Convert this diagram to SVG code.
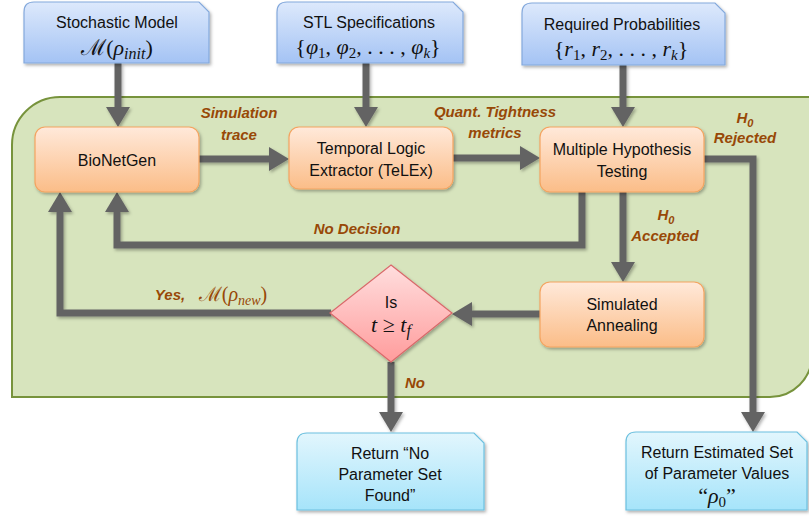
<svg xmlns="http://www.w3.org/2000/svg" width="809" height="516" viewBox="0 0 809 516">
<defs>
<linearGradient id="gBlue" x1="0" y1="0" x2="0" y2="1"><stop offset="0" stop-color="#dde9fc"/><stop offset="1" stop-color="#a4c3f4"/></linearGradient>
<linearGradient id="gOrange" x1="0" y1="0" x2="0" y2="1"><stop offset="0" stop-color="#ffe9da"/><stop offset="1" stop-color="#fbbd88"/></linearGradient>
<linearGradient id="gPink" x1="0" y1="0" x2="0" y2="1"><stop offset="0" stop-color="#ffdede"/><stop offset="1" stop-color="#ff9c9c"/></linearGradient>
<linearGradient id="gCyan" x1="0" y1="0" x2="0" y2="1"><stop offset="0" stop-color="#e2f6fd"/><stop offset="1" stop-color="#a6e4fa"/></linearGradient>
<filter id="sh" x="-10%" y="-10%" width="130%" height="140%"><feDropShadow dx="1.5" dy="2" stdDeviation="1.5" flood-color="#000" flood-opacity="0.3"/></filter>
<marker id="ah" markerUnits="userSpaceOnUse" markerWidth="22" markerHeight="24" refX="2" refY="12" orient="auto"><path d="M0,0 L20,12 L0,24 Z" fill="#636363"/></marker>
</defs>
<style>
.blue{fill:url(#gBlue);stroke:#84a9dc;stroke-width:1.2;filter:url(#sh)}
.orange{fill:url(#gOrange);stroke:#f4a460;stroke-width:1.2;filter:url(#sh)}
.cyan{fill:url(#gCyan);stroke:#6cc0df;stroke-width:1.2;filter:url(#sh)}
.pink{fill:url(#gPink);stroke:#d9686a;stroke-width:1.2;filter:url(#sh)}
.t{font-family:"Liberation Sans","Open Sans",sans-serif;font-size:16px;fill:#111;text-anchor:middle}
.m{font-family:"Liberation Serif","DejaVu Serif",serif;font-size:22px;fill:#111;text-anchor:middle}
.i{font-style:italic}
.lab{font-family:"Liberation Sans","Open Sans",sans-serif;font-size:15px;font-weight:bold;font-style:italic;fill:#984807;text-anchor:middle}
.conn path{fill:none;stroke:#636363;stroke-width:7;marker-end:url(#ah)}
</style>
<rect width="809" height="516" fill="#fff"/>
<g id="container">
<path d="M12,397 V145 A48,48 0 0 1 60,97 H812 V355 A42,42 0 0 1 770,397 Z" fill="#d7e4bd" stroke="#77933c" stroke-width="2"/>
</g>
<g class="conn" id="connectors" filter="url(#sh)">
<path d="M118,63 V109"/>
<path d="M366,63 V109"/>
<path d="M623,65 V109"/>
<path d="M199,159 H271"/>
<path d="M453,158 H522"/>
<path d="M623,192 V264"/>
<path d="M582,192 V245 H117 V210"/>
<path d="M704,159 H753 V414"/>
<path d="M540,314 H470"/>
<path d="M331,313 H60 V210"/>
<path d="M391,362 V414"/>
</g>
<g id="stochastic">
<path class="blue" d="M34,2 H199 L209,12 V63 H24 V12 Q24,2 34,2 Z"/>
<text class="t" x="117" y="28">Stochastic Model</text>
<text class="m" x="117" y="55">ℳ(<tspan class="i">ρ</tspan><tspan class="i" font-size="16" dy="4">init</tspan><tspan dy="-4">)</tspan></text>
</g>
<g id="stl">
<path class="blue" d="M287,2 H453 L463,12 V63 H277 V12 Q277,2 287,2 Z"/>
<text class="t" x="369" y="28">STL Specifications</text>
<text class="m" x="368" y="54">{<tspan class="i">φ</tspan><tspan font-size="15" dy="4">1</tspan><tspan dy="-4">, </tspan><tspan class="i">φ</tspan><tspan font-size="15" dy="4">2</tspan><tspan dy="-4">, . . . , </tspan><tspan class="i">φ</tspan><tspan class="i" font-size="15" dy="4">k</tspan><tspan dy="-4">}</tspan></text>
</g>
<g id="required">
<path class="blue" d="M532,3 H715 L725,13 V65 H522 V13 Q522,3 532,3 Z"/>
<text class="t" x="622" y="30">Required Probabilities</text>
<text class="m" x="621" y="56">{<tspan class="i">r</tspan><tspan font-size="15" dy="4">1</tspan><tspan dy="-4">, </tspan><tspan class="i">r</tspan><tspan font-size="15" dy="4">2</tspan><tspan dy="-4">, . . . , </tspan><tspan class="i">r</tspan><tspan class="i" font-size="15" dy="4">k</tspan><tspan dy="-4">}</tspan></text>
</g>
<g id="bionetgen">
<rect class="orange" x="35" y="127" width="164" height="65" rx="10"/>
<text class="t" x="117" y="166">BioNetGen</text>
</g>
<g id="telex">
<rect class="orange" x="289" y="127" width="164" height="62" rx="10"/>
<text class="t" x="371" y="154">Temporal Logic</text>
<text class="t" x="371" y="176">Extractor (TeLEx)</text>
</g>
<g id="mht">
<rect class="orange" x="540" y="127" width="164" height="65" rx="10"/>
<text class="t" x="622" y="155">Multiple Hypothesis</text>
<text class="t" x="622" y="177">Testing</text>
</g>
<g id="annealing">
<rect class="orange" x="540" y="282" width="164" height="65" rx="10"/>
<text class="t" x="622" y="310">Simulated</text>
<text class="t" x="622" y="331">Annealing</text>
</g>
<g id="decision">
<path class="pink" d="M391,265 L452,313 L391,362 L330,313 Z"/>
<text class="t" x="391" y="308" font-size="14">Is</text>
<text class="m i" x="391" y="332" font-size="24">t <tspan font-style="normal">≥</tspan> t<tspan font-size="16" dy="4">f</tspan></text>
</g>
<g id="return-none">
<path class="cyan" d="M307,433 H474 L484,443 V510 H297 V443 Q297,433 307,433 Z"/>
<text class="t" x="390" y="459">Return “No</text>
<text class="t" x="390" y="480">Parameter Set</text>
<text class="t" x="390" y="501">Found”</text>
</g>
<g id="return-est">
<path class="cyan" d="M636,432 H797 L807,442 V510 H626 V442 Q626,432 636,432 Z"/>
<text class="t" x="717" y="458">Return Estimated Set</text>
<text class="t" x="717" y="479">of Parameter Values</text>
<text class="m" x="717" y="503">“<tspan class="i">ρ</tspan><tspan font-size="15" dy="4">0</tspan><tspan dy="-4">”</tspan></text>
</g>
<g id="labels">
<text class="lab" x="239" y="118">Simulation</text>
<text class="lab" x="239" y="140">trace</text>
<text class="lab" x="495" y="117">Quant. Tightness</text>
<text class="lab" x="495" y="138">metrics</text>
<text class="lab" x="745" y="123">H<tspan font-size="11" dy="4">0</tspan></text>
<text class="lab" x="745" y="143">Rejected</text>
<text class="lab" x="666" y="220">H<tspan font-size="11" dy="4">0</tspan></text>
<text class="lab" x="665" y="241">Accepted</text>
<text class="lab" x="357" y="234">No Decision</text>
<text class="lab" x="170" y="300">Yes,</text>
<text x="233" y="301" font-family="'Liberation Serif','DejaVu Serif',serif" font-size="20" fill="#984807" text-anchor="middle">ℳ(<tspan font-style="italic">ρ</tspan><tspan font-style="italic" font-size="14" dy="4">new</tspan><tspan dy="-4">)</tspan></text>
<text class="lab" x="415" y="388">No</text>
</g>
</svg>
